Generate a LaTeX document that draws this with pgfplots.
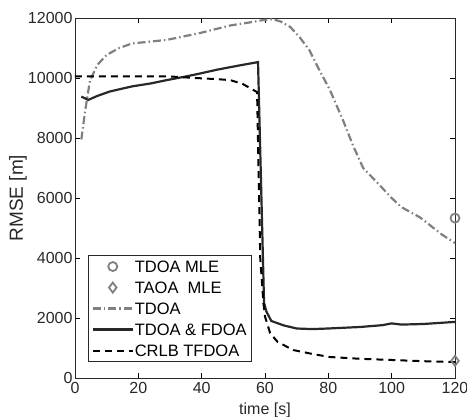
\documentclass[border=0pt]{standalone}
\usepackage{fontspec}
\setmainfont{Liberation Sans}
\usepackage{pgfplots}
\pgfplotsset{compat=1.18}
\definecolor{mgray}{RGB}{128,128,128}
\definecolor{dk}{RGB}{40,40,40}
\pgfplotsset{
  longleg/.style={legend image code/.code={\draw[mark repeat=2,mark phase=2,##1] plot coordinates {(0cm,0cm) (0.7cm,0cm) (1.4cm,0cm)};}},
}
\begin{document}
\begin{tikzpicture}
\begin{axis}[
  name=main,
  at={(0,0)}, anchor=south west,
  scale only axis, width=380pt, height=360pt,
  xmin=0, xmax=120, ymin=0, ymax=12000,
  xtick={0,20,...,120}, ytick={0,2000,...,12000},
  tick align=inside, tick pos=both,
  major tick length=5pt,
  tick style={black, line width=0.6pt},
  axis line style={line width=0.8pt, dk},
  /pgf/number format/assume math mode=true,
  scaled y ticks=false,
  yticklabel style={/pgf/number format/fixed, /pgf/number format/1000 sep={}},
  tick label style={font=\fontsize{16}{18}\selectfont, text=dk},
  xticklabel style={yshift=-1pt},
  yticklabel style={xshift=1pt},
  xlabel={time [s]}, ylabel={RMSE [m]},
  xlabel style={font=\fontsize{16}{18}\selectfont, text=dk,
    at={(axis description cs:0.5,0)}, anchor=north, yshift=-21pt},
  ylabel style={font=\fontsize{19}{21}\selectfont, text=dk,
    at={(axis description cs:-0.150,0.5)}, anchor=center},
  clip=false,
  legend style={at={(0.034,0.044)}, anchor=south west, draw=dk, line width=0.7pt,
    font=\fontsize{16.5}{18}\selectfont, inner sep=3.5pt, row sep=5.5pt,
    column sep=0pt,
    nodes={inner xsep=1pt, inner ysep=2pt, text height=11.5pt, text depth=0pt}},
  legend cell align=left,
  longleg,
]
\addplot[only marks, mark=o, mark size=4.5pt, mgray, line width=1.8pt, longleg]
  coordinates {(120,5330)};
\addlegendentry{TDOA MLE}
\addplot[only marks, mark=diamond, mark size=5pt, mgray, line width=1.8pt, longleg]
  coordinates {(120,570)};
\addlegendentry{TAOA\ \ MLE}
\addplot[mgray, line width=2.2pt, dash pattern=on 8pt off 3pt on 1.5pt off 3pt, no marks]
  coordinates {
(2,7950) (3.2,8900) (4.7,9900) (7,10430) (10,10770) (14,11000) (18,11150)
(29,11270) (39.5,11500) (49,11750) (55,11850) (59.4,11930) (62.5,11960)
(65,11880) (68,11700) (71,11350) (74,10930) (77,10300) (80.5,9600)
(84.6,8600) (87.8,7750) (91,7000) (96,6450) (100,6000) (103,5700)
(109,5350) (116,4770) (120,4500)
};
\addlegendentry{TDOA}
\addplot[dk, line width=2.2pt, no marks]
  coordinates {
(2,9380) (4.2,9270) (7,9400) (11,9550) (18,9720) (24,9820) (29,9930)
(35,10050) (39.5,10150) (45,10280) (52,10420) (57.8,10530) (59.7,2500)
(60.5,2200) (62,1900) (66,1750) (70,1650) (75,1630) (80,1650) (90,1700)
(97,1760) (100,1820) (103,1780) (110,1800) (120,1870)
};
\addlegendentry{TDOA \& FDOA}
\addplot[black, line width=2pt, dash pattern=on 7pt off 5pt, no marks]
  coordinates {
(0,10050) (10,10050) (20,10050) (30,10050) (38,10000) (45,9960) (49,9930)
(53,9800) (57.5,9530) (58.5,4000) (59.5,2500) (60,2050) (61.6,1500)
(64,1200) (69,930) (75,800) (80.5,700) (90,640) (100,600) (110,560) (120,530)
};
\addlegendentry{CRLB TFDOA}
\end{axis}
\pgfresetboundingbox
\useasboundingbox (main.south west) ++(-75pt,-39pt) rectangle ++(467pt,417pt);
\end{tikzpicture}
\end{document}
